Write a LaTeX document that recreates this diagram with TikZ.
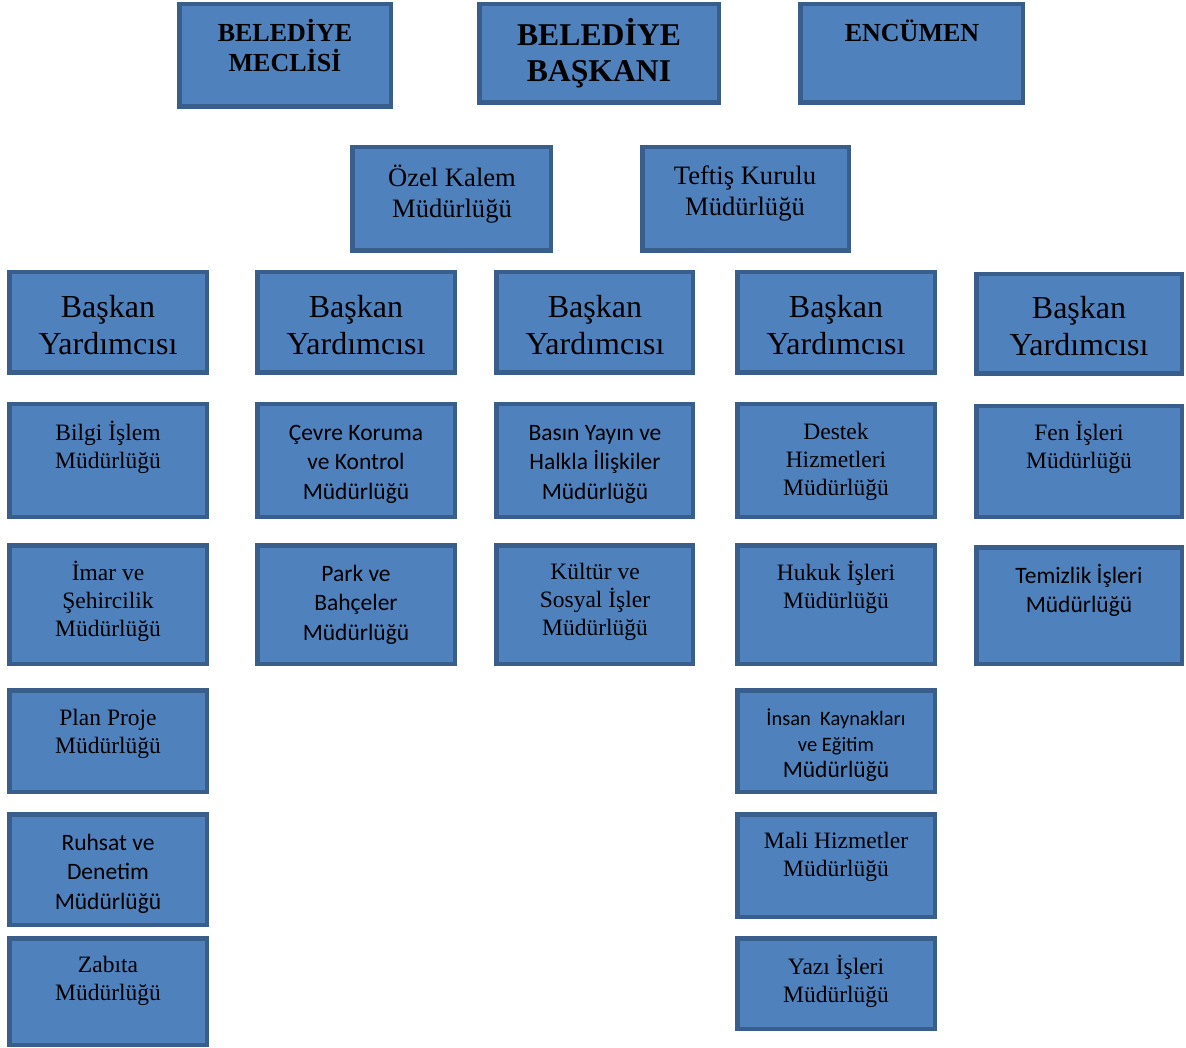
\documentclass[tikz,border=0pt]{standalone}
\usepackage{fontspec}
\setmainfont{Liberation Serif}
\newfontfamily\calibfont{Carlito}
\definecolor{boxfill}{HTML}{4F81BD}
\definecolor{boxline}{HTML}{3A5E8C}
\newcommand\bx[5]{\node[box, minimum width={#4-#2-4.5}, minimum height={#5-#3-4.5}] (#1) at ({(#2+#4)/2},{(#3+#5)/2}) {};}
\newcommand\tx[5]{\node[txt, #4] (#1) at (#2,#3) {#5};}
\begin{document}
\begin{tikzpicture}[x=1pt,y=-1pt,
  box/.style={draw=boxline, fill=boxfill, line width=4.5pt, inner sep=0pt, outer sep=0pt},
  txt/.style={align=center, inner sep=0pt, text=black},
  ser/.style={font=\fontsize{23.5}{28}\selectfont},
  san/.style={font=\calibfont\fontsize{23.5}{29.5}\selectfont},
  big/.style={font=\fontsize{32}{37}\selectfont},
]
\useasboundingbox (0,0) rectangle (1186,1048);
% top row
\bx{mec}{177}{2}{393}{109}
\tx{mect}{285}{45}{font=\bfseries\fontsize{26}{30}\selectfont}{BELEDİYE\\MECLİSİ}
\bx{bsk}{477}{2}{721}{105}
\tx{bskt}{599}{53.5}{font=\bfseries\fontsize{31.7}{36}\selectfont}{BELEDİYE\\BAŞKANI}
\bx{enc}{798}{2}{1025}{105}
\tx{enct}{912}{30.5}{font=\bfseries\fontsize{26}{30}\selectfont}{ENCÜMEN}
% second row
\bx{ozel}{350}{145}{553}{253}
\tx{ozelt}{452}{194}{font=\fontsize{26.6}{31}\selectfont}{Özel Kalem\\Müdürlüğü}
\bx{tef}{640}{145}{851}{253}
\tx{teft}{745}{194}{font=\fontsize{26.6}{31}\selectfont}{Teftiş Kurulu\\Müdürlüğü}
% Baskan Yardimcisi row
\bx{by1}{7}{270}{209}{375}
\tx{by1t}{108}{325}{big}{Başkan\\Yardımcısı}
\bx{by2}{255}{270}{457}{375}
\tx{by2t}{356}{325}{big}{Başkan\\Yardımcısı}
\bx{by3}{494}{270}{695}{375}
\tx{by3t}{595}{325}{big}{Başkan\\Yardımcısı}
\bx{by4}{735}{270}{937}{375}
\tx{by4t}{836}{325}{big}{Başkan\\Yardımcısı}
\bx{by5}{974}{272}{1184}{376}
\tx{by5t}{1079}{326}{big}{Başkan\\Yardımcısı}
% row 2
\bx{a2}{7}{402}{209}{519}
\tx{a2t}{108}{447}{ser}{Bilgi İşlem\\Müdürlüğü}
\bx{b2}{255}{402}{457}{519}
\tx{b2t}{356}{464}{san}{Çevre Koruma\\ve Kontrol\\Müdürlüğü}
\bx{c2}{494}{402}{695}{519}
\tx{c2t}{595}{464}{san}{Basın Yayın ve\\Halkla İlişkiler\\Müdürlüğü}
\bx{d2}{735}{402}{937}{519}
\tx{d2t}{836}{462}{ser}{Destek\\Hizmetleri\\Müdürlüğü}
\bx{e2}{974}{404}{1184}{519}
\tx{e2t}{1079}{447}{ser}{Fen İşleri\\Müdürlüğü}
% row 3
\bx{a3}{7}{543}{209}{666}
\tx{a3t}{108}{601}{ser}{İmar ve\\Şehircilik\\Müdürlüğü}
\bx{b3}{255}{543}{457}{666}
\tx{b3t}{356}{604.5}{san}{Park ve\\Bahçeler\\Müdürlüğü}
\bx{c3}{494}{543}{695}{666}
\tx{c3t}{595}{602}{ser}{Kültür ve\\Sosyal İşler\\Müdürlüğü}
\bx{d3}{735}{543}{937}{666}
\tx{d3t}{836}{587}{ser}{Hukuk İşleri\\Müdürlüğü}
\bx{e3}{974}{545}{1184}{666}
\tx{e3t}{1079}{590.5}{san}{Temizlik İşleri\\Müdürlüğü}
% row 4
\bx{a4}{7}{688}{209}{794}
\tx{a4t}{108}{734}{ser}{Plan Proje\\Müdürlüğü}
\bx{d4}{735}{688}{937}{794}
\tx{d4t}{836}{745}{font=\calibfont\fontsize{20.5}{26}\selectfont}{İnsan\ \ Kaynakları\\ve Eğitim\\{\fontsize{23.5}{28}\selectfont Müdürlüğü}}
% row 5
\bx{a5}{7}{812}{209}{927}
\tx{a5t}{108}{873.5}{san}{Ruhsat ve\\Denetim\\Müdürlüğü}
\bx{d5}{735}{812}{937}{919}
\tx{d5t}{836}{857}{ser}{Mali Hizmetler\\Müdürlüğü}
% row 6
\bx{a6}{7}{936}{209}{1047}
\tx{a6t}{108}{981}{ser}{Zabıta\\Müdürlüğü}
\bx{d6}{735}{936}{937}{1031}
\tx{d6t}{836}{981}{ser}{Yazı İşleri\\Müdürlüğü}
\end{tikzpicture}
\end{document}
